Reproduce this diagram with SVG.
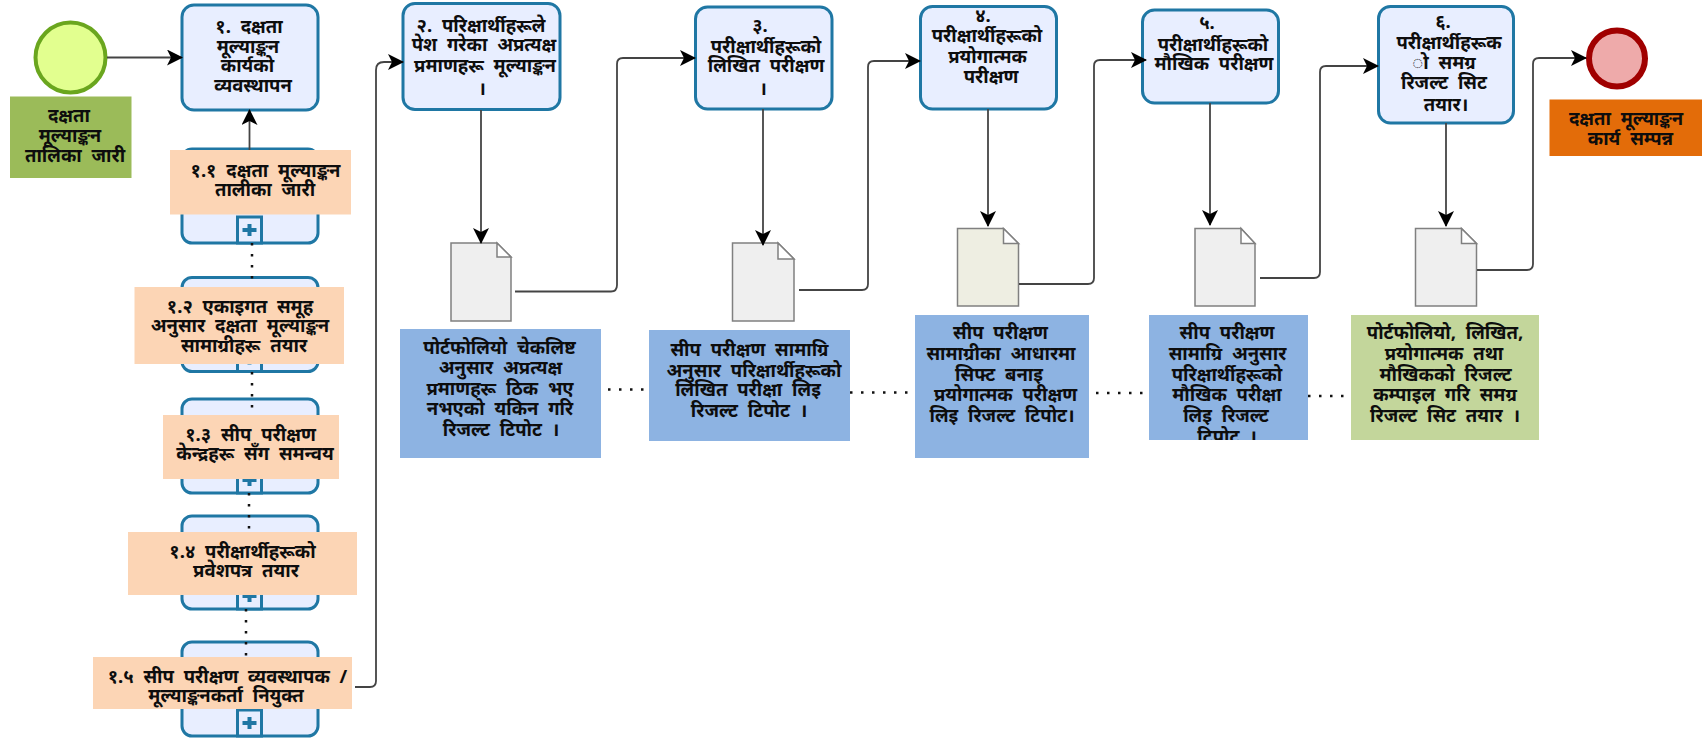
<svg xmlns="http://www.w3.org/2000/svg" width="1702" height="739" viewBox="0 0 1702 739">
<style>
text{font-family:"Noto Sans","Liberation Serif","DejaVu Sans",serif;font-size:18.500px;font-weight:700;word-spacing:5px;fill:#0d0d0d;text-anchor:middle}
.task{fill:#e8eeff;stroke:#1f77a4;stroke-width:3}
.mk{fill:#e8eeff;stroke:#1f77a4;stroke-width:3}
.plus{fill:#1f77a4}
.doc{fill:#efefef;stroke:#808080;stroke-width:1.5}
.fold{fill:#fff;stroke:#808080;stroke-width:1.5}
.or{fill:#fcd5b5}.bl{fill:#8db3e2}
.c{fill:none;stroke:#444;stroke-width:1.8}
.d{fill:none;stroke:#111;stroke-width:2.500;stroke-dasharray:2.500 8.500}
</style>
<defs>
<marker id="a" viewBox="0 0 16 16" refX="15" refY="8" markerWidth="16" markerHeight="16" markerUnits="userSpaceOnUse" orient="auto"><path d="M0 0L16 8L0 16L4 8Z" fill="#000"/></marker>
<clipPath id="clipL4"><rect x="1149" y="315" width="159" height="125"/></clipPath>
<g id="pm"><rect class="mk" x="0" y="0" width="24" height="26"/><path class="plus" d="M10 7h4v4h5v4h-5v4h-4v-4h-5v-4h5z"/></g>
</defs>
<g id="start"><circle cx="70.500" cy="57.500" r="35" fill="#e2ff8f" stroke="#6aa61e" stroke-width="4"/>
<rect x="10" y="96.500" width="121.500" height="81.500" fill="#9bbb59"/>
<text><tspan x="69" y="122">दक्षता</tspan><tspan x="70" y="142">मूल्याङ्कन</tspan><tspan x="75" y="162">तालिका जारी</tspan></text></g>
<g id="t1"><rect class="task" x="182" y="5" width="136" height="105" rx="12"/>
<text><tspan x="249" y="33">१. दक्षता</tspan><tspan x="248" y="53">मूल्याङ्कन</tspan><tspan x="247.500" y="72">कार्यको</tspan><tspan x="253" y="92">व्यवस्थापन</tspan></text></g>
<g id="s11"><rect class="task" x="182" y="149" width="136" height="94" rx="10"/><use href="#pm" x="237.500" y="217"/>
<rect class="or" x="170" y="150" width="181" height="64.500"/>
<text><tspan x="265.500" y="177">१.१ दक्षता मूल्याङ्कन</tspan><tspan x="265" y="196">तालीका जारी</tspan></text></g>
<g id="s12"><rect class="task" x="182" y="277.500" width="136" height="94" rx="10"/><use href="#pm" x="237.500" y="345.500"/>
<rect class="or" x="134.500" y="287" width="209.500" height="77"/>
<text><tspan x="240" y="313">१.२ एकाइगत समूह</tspan><tspan x="240" y="332">अनुसार दक्षता मूल्याङ्कन</tspan><tspan x="244" y="352">सामाग्रीहरू तयार</tspan></text></g>
<g id="s13"><rect class="task" x="182" y="399" width="136" height="94" rx="10"/><use href="#pm" x="237.500" y="467"/>
<rect class="or" x="163" y="415" width="176" height="64"/>
<text><tspan x="250.500" y="441">१.३ सीप परीक्षण</tspan><tspan x="255" y="460">केन्द्रहरू सँग समन्वय</tspan></text></g>
<g id="s14"><rect class="task" x="182" y="516" width="136" height="93" rx="10"/><use href="#pm" x="237.500" y="583"/>
<rect class="or" x="128" y="532" width="229" height="63"/>
<text><tspan x="242.500" y="558">१.४ परीक्षार्थीहरूको</tspan><tspan x="246" y="577">प्रवेशपत्र तयार</tspan></text></g>
<g id="s15"><rect class="task" x="182" y="642" width="136" height="94" rx="10"/><use href="#pm" x="237.500" y="710"/>
<rect class="or" x="93" y="657" width="259" height="52"/>
<text><tspan x="227.500" y="683">१.५ सीप परीक्षण व्यवस्थापक /</tspan><tspan x="226" y="702">मूल्याङ्कनकर्ता नियुक्त</tspan></text></g>
<g id="t2"><rect class="task" x="403" y="3.500" width="157" height="106" rx="12"/>
<text><tspan x="481" y="32">२. परिक्षार्थीहरूले</tspan><tspan x="484" y="51">पेश गरेका अप्रत्यक्ष</tspan><tspan x="485" y="72">प्रमाणहरू मूल्याङ्कन</tspan><tspan x="482" y="95">।</tspan></text></g>
<g id="t3"><rect class="task" x="695.500" y="7" width="136.500" height="102" rx="12"/>
<text><tspan x="760" y="32">३.</tspan><tspan x="766" y="53">परीक्षार्थीहरूको</tspan><tspan x="766" y="72">लिखित परीक्षण</tspan><tspan x="763" y="95">।</tspan></text></g>
<g id="t4"><rect class="task" x="920.500" y="6.500" width="136" height="102.500" rx="12"/>
<text><tspan x="983" y="22">४.</tspan><tspan x="987" y="42">परीक्षार्थीहरूको</tspan><tspan x="987.500" y="63">प्रयोगात्मक</tspan><tspan x="991" y="83">परीक्षण</tspan></text></g>
<g id="t5"><rect class="task" x="1142.500" y="10" width="136" height="93" rx="12"/>
<text><tspan x="1207" y="29">५.</tspan><tspan x="1213" y="51">परीक्षार्थीहरूको</tspan><tspan x="1214" y="70">मौखिक परीक्षण</tspan></text></g>
<g id="t6"><rect class="task" x="1378.500" y="6.500" width="135" height="116.500" rx="12"/>
<text><tspan x="1443" y="28">६.</tspan><tspan x="1449" y="49">परीक्षार्थीहरूक</tspan><tspan x="1444" y="69">ो समग्र</tspan><tspan x="1444" y="89">रिजल्ट सिट</tspan><tspan x="1446" y="111">तयार।</tspan></text></g>
<g id="end"><circle cx="1617" cy="58.500" r="28" fill="#eeaaaa" stroke="#a00000" stroke-width="6"/>
<rect x="1549.500" y="99.500" width="152.500" height="56.500" fill="#e36c09"/>
<text><tspan x="1626" y="125">दक्षता मूल्याङ्कन</tspan><tspan x="1630.500" y="145">कार्य सम्पन्न</tspan></text></g>
<g id="d1"><path class="doc" d="M451 243h46l14 14v64h-60z"/><path class="fold" d="M497 243v14h14z"/></g>
<g id="d2"><path class="doc" d="M732.500 243h45.500l16 16v62h-61.500z"/><path class="fold" d="M778 243v16h16z"/></g>
<g id="d3"><path class="doc" style="fill:#eeeee2" d="M957.500 228.500h46l15 15v62.500h-61z"/><path class="fold" d="M1003.500 228.500v15h15z"/></g>
<g id="d4"><path class="doc" d="M1195 228.500h46l14 15v62.500h-60z"/><path class="fold" d="M1241 228.500v15h14z"/></g>
<g id="d5"><path class="doc" d="M1415.500 228.500h46l15 15v62.500h-61z"/><path class="fold" d="M1461.500 228.500v15h15z"/></g>
<g id="n1"><rect class="bl" x="400" y="329" width="201" height="129"/>
<text><tspan x="499.500" y="354">पोर्टफोलियो चेकलिष्ट</tspan><tspan x="500.500" y="374">अनुसार अप्रत्यक्ष</tspan><tspan x="500" y="395">प्रमाणहरू ठिक भए</tspan><tspan x="500" y="415">नभएको यकिन गरि</tspan><tspan x="501" y="436">रिजल्ट टिपोट ।</tspan></text></g>
<g id="n2"><rect class="bl" x="649" y="330" width="201" height="111"/>
<text><tspan x="749.500" y="356">सीप परीक्षण सामाग्रि</tspan><tspan x="754" y="377">अनुसार परिक्षार्थीहरूको</tspan><tspan x="748" y="396">लिखित परीक्षा लिइ</tspan><tspan x="749" y="417">रिजल्ट टिपोट ।</tspan></text></g>
<g id="n3"><rect class="bl" x="915" y="315" width="174" height="143"/>
<text><tspan x="1000.500" y="339">सीप परीक्षण</tspan><tspan x="1001" y="360">सामाग्रीका आधारमा</tspan><tspan x="999" y="381">सिफ्ट बनाइ</tspan><tspan x="1005.500" y="401">प्रयोगात्मक परीक्षण</tspan><tspan x="1002" y="422">लिइ रिजल्ट टिपोट।</tspan></text></g>
<g id="n4"><rect class="bl" x="1149" y="315" width="159" height="125"/>
<text clip-path="url(#clipL4)"><tspan x="1227" y="339">सीप परीक्षण</tspan><tspan x="1227.500" y="360">सामाग्रि अनुसार</tspan><tspan x="1227" y="381">परिक्षार्थीहरूको</tspan><tspan x="1227" y="401">मौखिक परीक्षा</tspan><tspan x="1226" y="422">लिइ रिजल्ट</tspan><tspan x="1227" y="443">टिपोट ।</tspan></text></g>
<g id="n5"><rect x="1351" y="315" width="188" height="125" fill="#c3d69b"/>
<text><tspan x="1445" y="339">पोर्टफोलियो, लिखित,</tspan><tspan x="1444" y="360">प्रयोगात्मक तथा</tspan><tspan x="1445.500" y="381">मौखिकको रिजल्ट</tspan><tspan x="1445" y="401">कम्पाइल गरि समग्र</tspan><tspan x="1445" y="422">रिजल्ट सिट तयार ।</tspan></text></g>
<g id="connectors">
<path class="c" marker-end="url(#a)" d="M107 57.500H182"/>
<path class="c" marker-end="url(#a)" d="M249.500 150V110"/>
<path class="c" marker-end="url(#a)" d="M355 687H370Q376 687 376 681V70Q376 62 384 62H403"/>
<path class="c" marker-end="url(#a)" d="M481 110V243"/>
<path class="c" marker-end="url(#a)" d="M515 291.500H611Q617 291.500 617 285V64Q617 58 623 58H695"/>
<path class="c" marker-end="url(#a)" d="M763 109V245"/>
<path class="c" marker-end="url(#a)" d="M799 290H862Q868 290 868 284V67Q868 61 874 61H920"/>
<path class="c" marker-end="url(#a)" d="M988 109V226"/>
<path class="c" marker-end="url(#a)" d="M1019 284H1088Q1094 284 1094 278V66Q1094 60 1100 60H1146"/>
<path class="c" marker-end="url(#a)" d="M1210 103V225"/>
<path class="c" marker-end="url(#a)" d="M1260 278H1314Q1320 278 1320 272V72Q1320 66 1326 66H1378"/>
<path class="c" marker-end="url(#a)" d="M1446 123V226"/>
<path class="c" marker-end="url(#a)" d="M1477 270H1527Q1533 270 1533 264V64Q1533 58 1539 58H1586"/>
<path class="d" d="M252 243V287"/>
<path class="d" d="M252 372V415"/>
<path class="d" d="M249 493V532"/>
<path class="d" d="M246 609V657"/>
<path class="d" d="M608 389.500H649"/>
<path class="d" d="M850 392.500H915"/>
<path class="d" d="M1096 393H1149"/>
<path class="d" d="M1308 396H1351"/>
</g>
</svg>
